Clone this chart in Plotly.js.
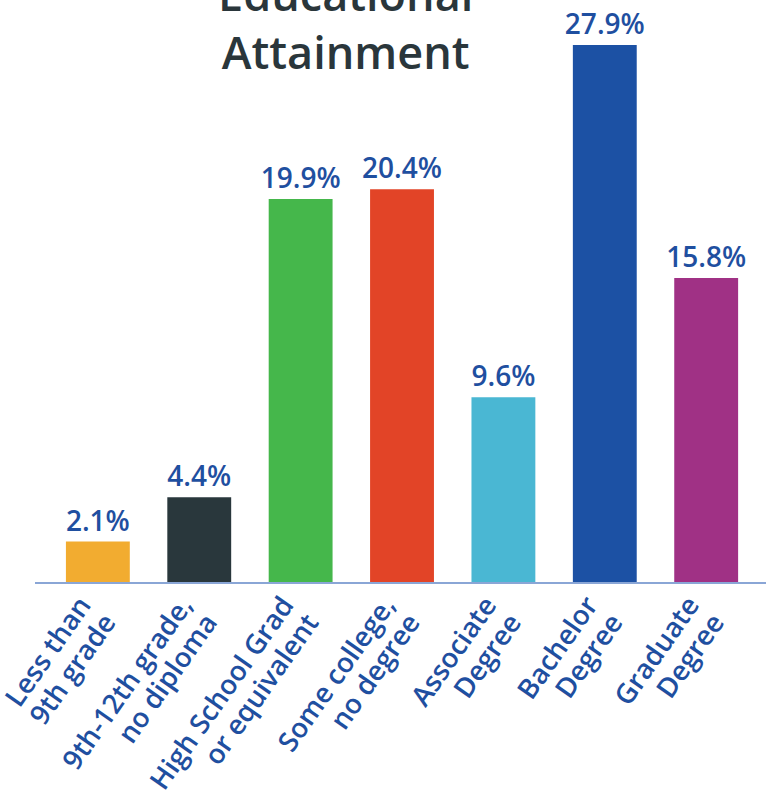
<!DOCTYPE html>
<html>
<head>
<meta charset="utf-8">
<script src="https://cdn.plot.ly/plotly-3.0.1.min.js"></script>
<style>html,body{margin:0;padding:0;background:#fff;}#chart{width:766px;height:807px;}</style>
</head>
<body>
<div id="chart"></div>
<script>
var categories = ["Less than<br>9th grade", "9th-12th grade,<br>no diploma", "High School Grad<br>or equivalent", "Some college,<br>no degree", "Associate<br>Degree", "Bachelor<br>Degree", "Graduate<br>Degree"];
var values = [2.1, 4.4, 19.9, 20.4, 9.6, 27.9, 15.8];
var valueLabels = ["2.1%", "4.4%", "19.9%", "20.4%", "9.6%", "27.9%", "15.8%"];
var barColors = ["#f2ac30", "#29373c", "#45b74b", "#e24427", "#4ab7d3", "#1c51a4", "#a03185"];

var trace = {
  type: "bar",
  x: categories,
  y: values,
  text: valueLabels,
  textposition: "outside",
  texttemplate: "%{text}",
  constraintext: "none",
  textfont: {family: "Open Sans", size: 28, color: "#1f4fa0", weight: 600},
  cliponaxis: false,
  marker: {color: barColors},
  width: 0.63,
  hoverinfo: "none"
};

var layout = {
  width: 766,
  height: 807,
  margin: {l: 35, r: 0, t: 30, b: 225},
  paper_bgcolor: "#ffffff",
  plot_bgcolor: "#ffffff",
  showlegend: false,
  title: {
    text: "Educational<br>Attainment",
    x: 0.425, xanchor: "center", xref: "paper",
    y: 0.987, yanchor: "bottom", yref: "container",
    font: {family: "Open Sans", size: 45, color: "#2a363b", weight: 600}
  },
  xaxis: {
    type: "category",
    range: [-0.62, 6.59],
    showline: true, linecolor: "#8aa6d6", linewidth: 2,
    showgrid: false, zeroline: false, ticks: "",
    tickangle: -55,
    ticklabelshift: -17,
    ticklabelstandoff: -6,
    tickfont: {family: "Open Sans", size: 27.5, color: "#1f4fa0", weight: 600}
  },
  yaxis: {
    range: [0, 28.68],
    visible: false,
    showgrid: false, zeroline: false
  }
};

Plotly.newPlot("chart", [trace], layout, {displayModeBar: false, staticPlot: true}).then(function () {
  // tighter line spacing for the two-line category labels
  document.querySelectorAll("#chart .xtick text").forEach(function (t) {
    t.querySelectorAll("tspan.line").forEach(function (ln, i) {
      ln.setAttribute("dy", (i * 1.1) + "em");
    });
  });
});
</script>
</body>
</html>
